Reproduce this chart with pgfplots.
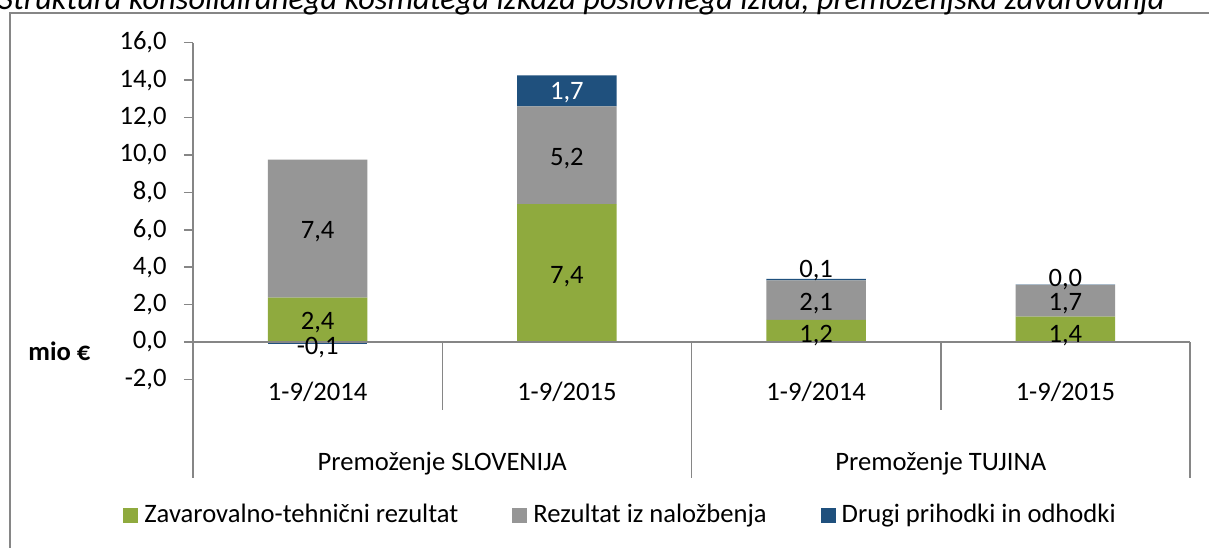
\documentclass[border=0pt]{standalone}
\usepackage{fontspec}
\setmainfont{Carlito}
\usepackage{pgfplots}
\pgfplotsset{compat=1.18}
\definecolor{cgreen}{RGB}{143,170,62}
\definecolor{cgray}{RGB}{150,150,150}
\definecolor{cblue}{RGB}{31,80,125}
\definecolor{axgray}{RGB}{134,134,134}
\newcommand{\fs}{\fontsize{13.3}{16}\selectfont}
\begin{document}
\fs
\begin{tikzpicture}[font=\fs]
\begin{scope}[x=0.5pt,y=0.5pt]
\useasboundingbox (0,0) rectangle (1209,547);
\clip (0,0) rectangle (1209,547);
\fill[white] (0,0) rectangle (1209,547);
\draw[axgray,line width=1pt] (10,-20) -- (10,534) -- (1240,534);
\node[anchor=base west,inner sep=0pt] at (-2,537) {\resizebox{583pt}{!}{\itshape Struktura konsolidiranega kosmatega izkaza poslovnega izida, premoženjska zavarovanja}};
\end{scope}
\begin{axis}[
  at={(96.5pt,83.8pt)}, anchor=south west, scale only axis,
  width=498.5pt, height=168.35pt,
  xmin=-0.5, xmax=3.5, ymin=-2, ymax=16,
  axis x line=none, axis y line*=left,
  axis line style={axgray,line width=0.75pt},
  ytick={-2,0,2,4,6,8,10,12,14,16},
  tick align=outside, major tick length=4.5pt,
  ytick style={axgray,line width=0.75pt},
  /pgf/number format/fixed,
  /pgf/number format/fixed zerofill,
  /pgf/number format/precision=1,
  /pgf/number format/use comma,
  /pgf/number format/assume math mode=true,
  yticklabel style={anchor=east,inner sep=0pt,xshift=-8.5pt,font=\fs},
  ybar stacked, bar width=49.75pt,
  clip=false,
  legend columns=3,
  legend style={draw=none,fill=none,inner sep=0pt,
    at={(-0.0702,-0.4384)},anchor=south west,
    nodes={inner sep=0pt,anchor=base west},
    font=\fs,
    /tikz/every odd column/.append style={column sep=3pt},
    /tikz/every even column/.append style={column sep=27pt}},
  legend image code/.code={\fill[#1] (0pt,0pt) rectangle (7.5pt,7.5pt);},
]
\addplot[fill=cgreen,draw=none] coordinates {(0,2.37) (1,7.37) (2,1.18) (3,1.36)};
\addlegendentry{Zavarovalno-tehnični rezultat}
\addplot[fill=cgray,draw=none] coordinates {(0,7.38) (1,5.22) (2,2.12) (3,1.69)};
\addlegendentry{Rezultat iz naložbenja}
\addplot[fill=cblue,draw=none] coordinates {(0,0) (1,1.66) (2,0.08) (3,0.02)};
\addlegendentry{Drugi prihodki in odhodki}
\end{axis}
\begin{axis}[
  at={(96.5pt,83.8pt)}, anchor=south west, scale only axis,
  width=498.5pt, height=168.35pt,
  xmin=-0.5, xmax=3.5, ymin=-2, ymax=16,
  axis lines=none, ybar, bar width=49.75pt, clip=false,
]
\addplot[fill=cblue,draw=none] coordinates {(0,-0.1)};
\draw[axgray,line width=0.75pt] (axis cs:-0.5,0) -- (axis cs:3.5,0);
\node[anchor=base,inner sep=0pt] at (axis cs:0,0.69) {2,4};
\node[anchor=base,inner sep=0pt] at (axis cs:0,5.51) {7,4};
\node[anchor=base,inner sep=0pt] at (axis cs:0,-0.69) {-0,1};
\node[anchor=base,inner sep=0pt] at (axis cs:1,3.14) {7,4};
\node[anchor=base,inner sep=0pt] at (axis cs:1,9.42) {5,2};
\node[anchor=base,inner sep=0pt,text=white] at (axis cs:1,12.94) {1,7};
\node[anchor=base,inner sep=0pt] at (axis cs:2,-0.04) {1,2};
\node[anchor=base,inner sep=0pt] at (axis cs:2,1.68) {2,1};
\node[anchor=base,inner sep=0pt] at (axis cs:2,3.45) {0,1};
\node[anchor=base,inner sep=0pt] at (axis cs:3,-0.04) {1,4};
\node[anchor=base,inner sep=0pt] at (axis cs:3,1.68) {1,7};
\node[anchor=base,inner sep=0pt] at (axis cs:3,2.99) {0,0};
\end{axis}
\begin{scope}[x=0.5pt,y=0.5pt]
\draw[axgray,line width=0.75pt] (193,205) -- (193,69);
\draw[axgray,line width=0.75pt] (691.5,205) -- (691.5,69);
\draw[axgray,line width=0.75pt] (1190,205) -- (1190,69);
\draw[axgray,line width=0.75pt] (442.25,205) -- (442.25,137);
\draw[axgray,line width=0.75pt] (940.75,205) -- (940.75,137);
\node[anchor=base,inner sep=0pt] at (317.6,146.3) {1-9/2014};
\node[anchor=base,inner sep=0pt] at (566.9,146.3) {1-9/2015};
\node[anchor=base,inner sep=0pt] at (816.1,146.3) {1-9/2014};
\node[anchor=base,inner sep=0pt] at (1065.4,146.3) {1-9/2015};
\node[anchor=base,inner sep=0pt] at (442.25,77) {Premoženje SLOVENIJA};
\node[anchor=base,inner sep=0pt] at (940.75,77) {Premoženje TUJINA};
\node[anchor=base west,inner sep=0pt,font=\fs\bfseries] at (28,186.3) {mio €};
\end{scope}
\end{tikzpicture}
\end{document}
